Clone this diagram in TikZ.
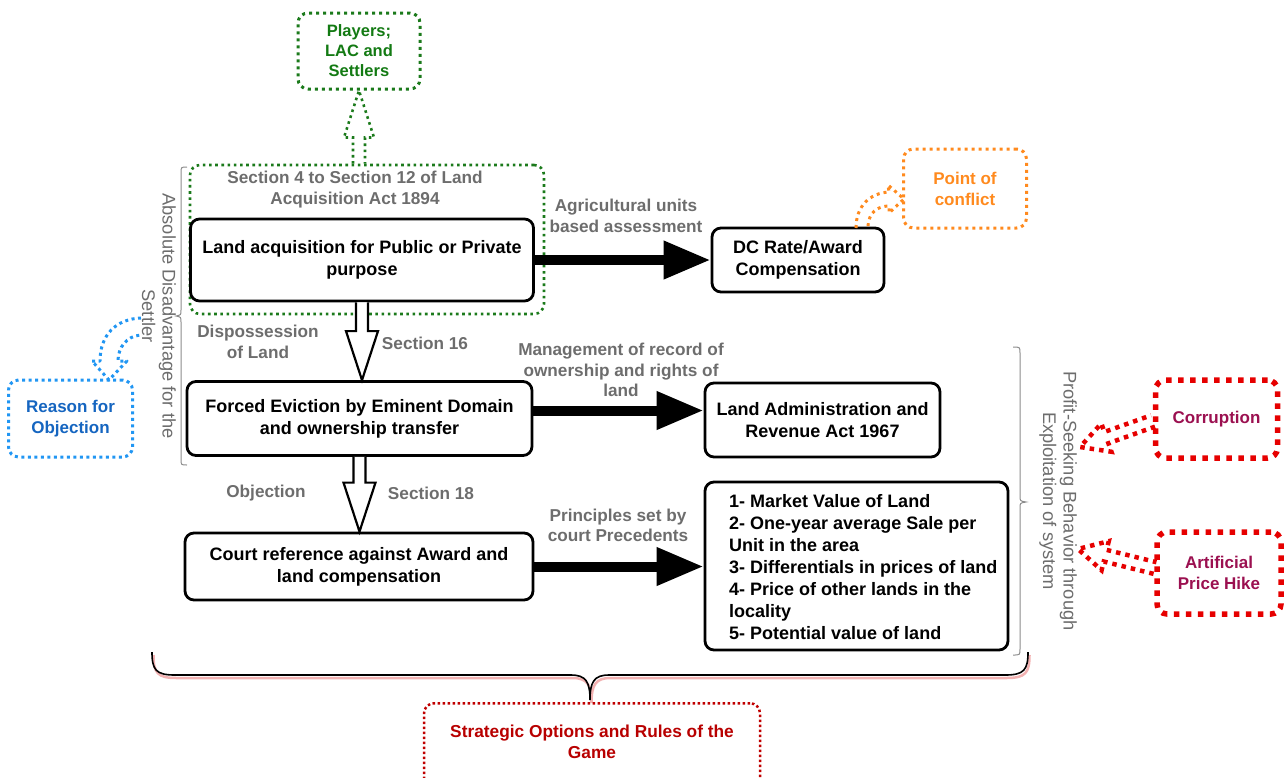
\documentclass[tikz,border=0pt]{standalone}
\usepackage{fontspec}
\setmainfont{Liberation Sans}
\usetikzlibrary{arrows.meta,calc}

\definecolor{grn}{HTML}{1B7A1B}
\definecolor{grntxt}{HTML}{137A13}
\definecolor{orng}{HTML}{FF8A1E}
\definecolor{blu}{HTML}{2196F3}
\definecolor{blutxt}{HTML}{1565C0}
\definecolor{rd}{HTML}{E60000}
\definecolor{rdtxt}{HTML}{9B1050}
\definecolor{drd}{HTML}{C00000}
\definecolor{drdtxt}{HTML}{B80000}
\definecolor{lblgray}{HTML}{6D6D6D}
\definecolor{brgray}{HTML}{8C8C8C}
\definecolor{pinkshade}{HTML}{F2B2B2}

\newcommand\bxfont{\fontsize{18}{22}\selectfont\bfseries}
\newcommand\tgfont{\fontsize{17}{21}\selectfont\bfseries}
\newcommand\ntfont{\fontsize{16.5}{20}\selectfont\bfseries}
\newcommand\lbfont{\fontsize{17.2}{20.5}\selectfont\bfseries}
\newcommand\rotfont{\fontsize{18.3}{20.5}\selectfont}

% hollow block arrow: style, start, tip, half shaft, half head, head length
\newcommand\blockarrow[6]{%
  \coordinate (ba-h) at ($(#3)!#6!(#2)$);
  \draw[#1] ($(#2)!#4!90:(#3)$) -- ($(ba-h)!#4!90:(#3)$) -- ($(ba-h)!#5!90:(#3)$)
    -- (#3) -- ($(ba-h)!#5!-90:(#3)$) -- ($(ba-h)!#4!-90:(#3)$) -- ($(#2)!#4!-90:(#3)$);}

\begin{document}
\begin{tikzpicture}[x=1pt,y=-1pt,
  box/.style={draw=black, line width=2.8pt, rounded corners=9pt, font=\bxfont, align=center, inner sep=0pt},
  lbl/.style={font=\lbfont, text=lblgray, align=center, inner sep=0pt},
  rot/.style={font=\rotfont, text=lblgray, align=center, inner sep=0pt, rotate=-90},
  flow/.style={line width=10pt, -{Triangle[length=47pt,width=36pt]}},
  hollow/.style={draw=black, line width=2.2pt, fill=white, line join=miter},
  tag/.style={rounded corners=10pt, align=center, inner sep=0pt},
  grdots/.style={draw=grn, line width=2.6pt, dash pattern=on 2.6pt off 3.6pt},
  ordots/.style={draw=orng, line width=3pt, dash pattern=on 3pt off 4pt},
  bldots/.style={draw=blu, line width=3pt, dash pattern=on 3pt off 3.5pt},
  rddots/.style={draw=rd, line width=5.5pt, dash pattern=on 5.5pt off 6.5pt},
  drdots/.style={draw=drd, line width=2.5pt, dash pattern=on 2.5pt off 2.5pt},
  brace/.style={draw=brgray, line width=1pt}
]
\useasboundingbox (0,0) rectangle (1287,777);
\clip (0,0) rectangle (1287,777);

% main process boxes
\node[grdots, rounded corners=10pt, minimum width=354pt, minimum height=149pt] (G) at (367,239.5) {};
\node[lbl] (Gt) at (355,189.5) {Section 4 to Section 12 of Land\\Acquisition Act 1894};
\node[box, minimum width=343pt, minimum height=82pt] (A) at (362,260) {Land acquisition for Public or Private\\purpose};
\node[box, minimum width=172pt, minimum height=64pt] (DC) at (798,260) {DC Rate/Award\\Compensation};
\node[box, minimum width=345pt, minimum height=74pt] (B) at (359.5,418.5) {Forced Eviction by Eminent Domain\\and ownership transfer};
\node[box, minimum width=235pt, minimum height=74pt] (LA) at (822.5,420) {Land Administration and\\Revenue Act 1967};
\node[box, minimum width=348pt, minimum height=67pt] (C) at (359,566.5) {Court reference against Award and\\land compensation};
\node[box, minimum width=303pt, minimum height=168pt] (L) at (856.5,566) {};
\node[font=\bxfont, align=left, inner sep=0pt, anchor=west] (Lt) at (729,567)
  {1- Market Value of Land\\2- One-year average Sale per\\Unit in the area\\3- Differentials in prices of land\\4- Price of other lands in the\\locality\\5- Potential value of land};

% horizontal flows
\draw[flow] (A.east) -- (A.east -| DC.west);
\draw[flow] ([yshift=8pt]B.east) -- ([yshift=8pt]B.east -| LA.west);
\draw[flow] (C.east) -- (C.east -| L.west);
\node[lbl] (l1) at (626,216) {Agricultural units\\based assessment};
\node[lbl] (l2) at (621,370) {Management of record of\\ownership and rights of\\land};
\node[lbl] (l3) at (618,525.5) {Principles set by\\court Precedents};

% vertical hollow flows
\coordinate (ab) at (A.south |- B.north);
\blockarrow{hollow}{A.south}{ab}{6pt}{16pt}{49pt}
\coordinate (bc) at (B.south |- C.north);
\blockarrow{hollow}{B.south}{bc}{6pt}{16pt}{49pt}
\node[lbl] (l4) at (258,342) {Dispossession\\of Land};
\node[lbl] (l5) at (425,343) {Section 16};
\node[lbl] (l6) at (266,493) {Objection};
\node[lbl] (l7) at (431,493) {Section 18};

% players
\node[grdots, tag, line width=3pt, dash pattern=on 3pt off 4pt, minimum width=122pt, minimum height=76pt,
  font=\ntfont, text=grntxt] (P) at (359,51) {Players;\\LAC and\\Settlers};
\coordinate (gp) at (P.south |- G.north);
\blockarrow{grdots, line width=2.6pt}{gp}{P.south}{6pt}{15pt}{47pt}

% point of conflict
\node[ordots, tag, minimum width=123pt, minimum height=79pt, font=\tgfont, text=orng] (PC) at (965,188.5) {Point of\\conflict};
\draw[ordots, line join=round] (856,228) .. controls (856,206) and (870,193) .. (889,192)
  -- (888,185) -- (904,199) -- (889,213) -- (889,206)
  .. controls (878,206) and (868,212) .. (868,228);

% left bracket and its note
\draw[brace] (187,167) .. controls (181,167) .. (181,173) -- (181,310)
  .. controls (181,315) .. (176,316) .. controls (181,317) .. (181,322) -- (181,459)
  .. controls (181,465) .. (187,465);
\node[rot] (ad) at (159,316) {Absolute Disadvantage for the\\Settler};
\node[bldots, tag, minimum width=124pt, minimum height=77pt, font=\tgfont, text=blutxt] (RO) at (70.5,418.5) {Reason for\\Objection};
\draw[bldots, line join=round] (141,318) .. controls (116,319) and (100,335) .. (100,361)
  -- (92,361) -- (109,380) -- (127,361) -- (118,361)
  .. controls (118,348) and (126,336) .. (141,335);

% right bracket and its notes
\draw[brace] (1013,347) .. controls (1020,347) .. (1020,353) -- (1020,496)
  .. controls (1020,501) .. (1026,502) .. controls (1020,503) .. (1020,508) -- (1020,649)
  .. controls (1020,655) .. (1013,655);
\node[rot] (ps) at (1058,501) {Profit-Seeking Behavior through\\Exploitation of system};
\node[rddots, tag, minimum width=122pt, minimum height=78pt, font=\tgfont, text=rdtxt] (Cor) at (1216.5,419) {Corruption};
\node[rddots, tag, minimum width=124pt, minimum height=82pt, font=\tgfont, text=rdtxt] (Art) at (1219,573) {Artificial\\Price Hike};
\coordinate (corTip) at (1080,447);
\coordinate (corBase) at (1153,421);
\blockarrow{rddots, line width=4.5pt, dash pattern=on 4.5pt off 5pt}{corBase}{corTip}{6pt}{15pt}{28pt}
\coordinate (artTip) at (1078,549);
\coordinate (artBase) at (1155,568);
\blockarrow{rddots, line width=4.5pt, dash pattern=on 4.5pt off 5pt}{artBase}{artTip}{6pt}{15pt}{28pt}

% bottom brace
\draw[pinkshade, line width=2.5pt, shift={(1.5,3)}] (152,652) .. controls (152,670) and (156,675) .. (175,675) -- (571,675)
  .. controls (586,675) and (590,682) .. (590,700) .. controls (590,682) and (594,675) .. (609,675)
  -- (1005,675) .. controls (1024,675) and (1028,670) .. (1028,652);
\draw[black, line width=1.6pt] (152,652) .. controls (152,670) and (156,675) .. (175,675) -- (571,675)
  .. controls (586,675) and (590,682) .. (590,700) coordinate (tip) .. controls (590,682) and (594,675) .. (609,675)
  -- (1005,675) .. controls (1024,675) and (1028,670) .. (1028,652);
\node[drdots, tag, anchor=north, minimum width=336pt, minimum height=120pt] (S) at (592,702) {};
\node[font=\fontsize{17.3}{21}\selectfont\bfseries, text=drdtxt, align=center, inner sep=0pt] (St) at (592,742) {Strategic Options and Rules of the\\Game};
\end{tikzpicture}
\end{document}
